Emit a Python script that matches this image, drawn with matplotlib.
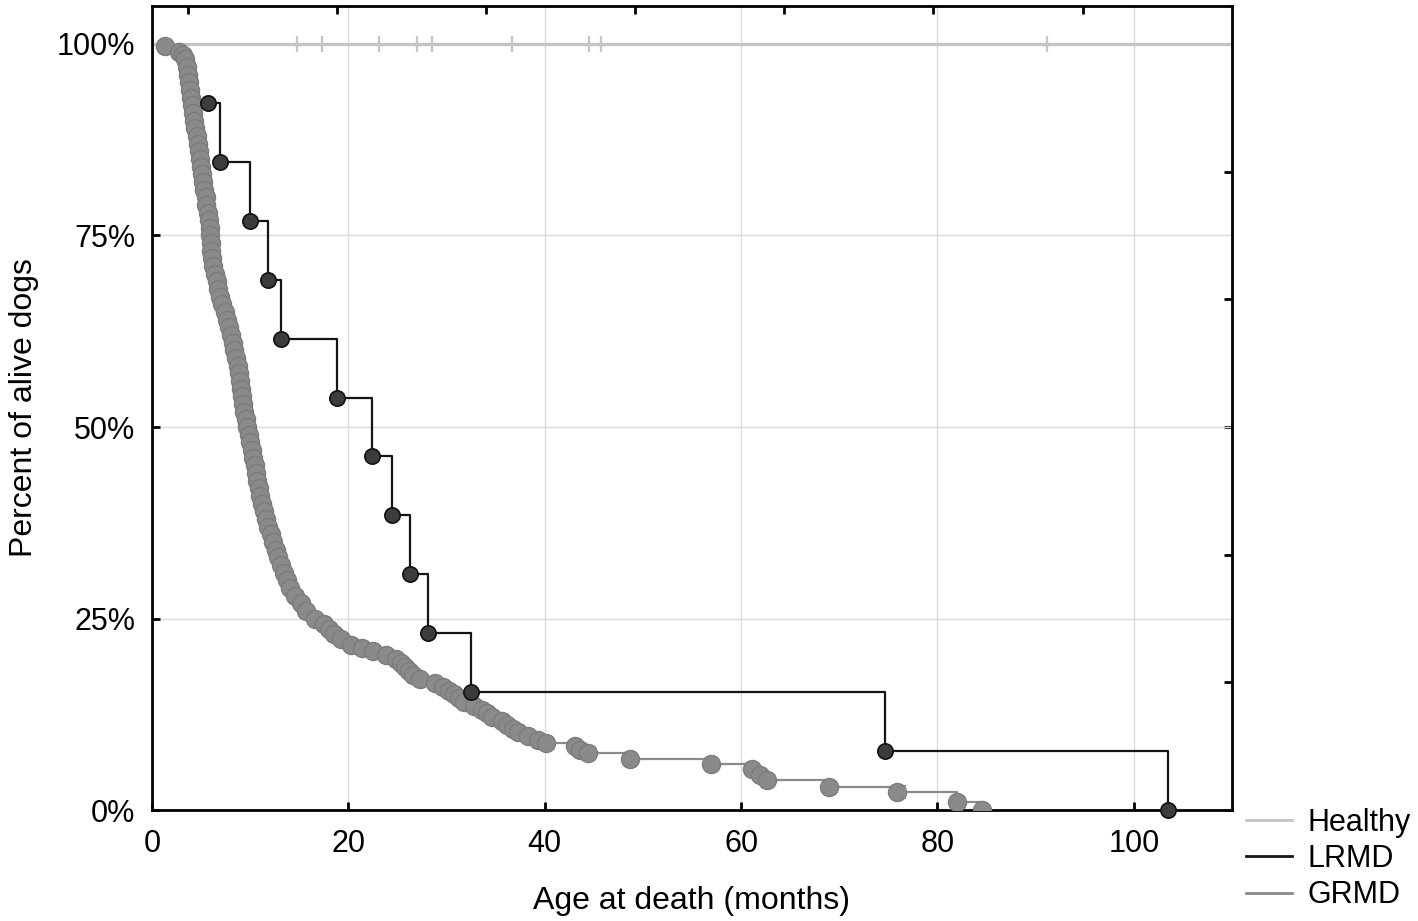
import numpy as np
import matplotlib
matplotlib.use("Agg")
import matplotlib.pyplot as plt
from matplotlib.lines import Line2D

plt.rcParams['font.family'] = ['Liberation Sans', 'DejaVu Sans']

# Healthy dogs: nobody died, only censored observations
healthy_censor = [14.8, 17.3, 23.1, 27.0, 28.5, 36.7, 44.5, 45.7, 91.2]

# LRMD: event times (months) and survival after each event
lrmd_time = [5.7, 6.9, 10.0, 11.8, 13.1, 18.8, 22.4, 24.4, 26.3, 28.1, 32.5, 74.7, 103.5]
lrmd_surv = [0.923, 0.846, 0.769, 0.692, 0.615, 0.538, 0.462, 0.385, 0.308, 0.231, 0.154, 0.077, 0.0]

# GRMD: event times (months) and survival (%)
grmd_time = [1.3, 2.8, 3.2, 3.4, 3.6, 3.7, 3.8, 3.9, 4.0, 4.1, 4.2, 4.3, 4.4, 4.55, 4.65,
             4.75, 4.85, 5.0, 5.1, 5.2, 5.3, 5.45, 5.55, 5.7, 5.8, 5.9, 5.95, 6.0, 6.05, 6.1,
             6.2, 6.4, 6.6, 6.75, 6.9, 7.15, 7.4, 7.6, 7.85, 8.0, 8.2, 8.4, 8.6, 8.75, 8.85,
             8.95, 9.05, 9.2, 9.3, 9.4, 9.55, 9.7, 9.85, 10.0, 10.15, 10.3, 10.45, 10.55, 10.7,
             10.85, 11.0, 11.2, 11.4, 11.65, 11.85, 12.1, 12.35, 12.6, 12.85, 13.1, 13.4, 13.7,
             14.1, 14.6, 15.2, 15.7, 16.6, 17.5, 18.0, 18.5, 19.3, 20.3, 21.4, 22.5, 23.8, 24.9,
             25.4, 25.8, 26.2, 26.6, 27.3, 28.8, 29.6, 30.3, 30.8, 31.3, 31.8, 32.8, 33.6, 34.1,
             34.6, 35.6, 36.2, 36.8, 37.3, 38.3, 39.3, 40.1, 43.1, 43.6, 44.4, 48.7, 56.9, 61.1,
             61.9, 62.6, 69.0, 75.9, 82.0, 84.5]
grmd_surv = [99.7, 99.0, 98.5, 98, 97, 96, 95, 94, 93, 92, 91, 90, 89, 88, 87,
             86, 85, 84, 83, 82, 81, 80, 79, 78, 77, 76, 75, 74, 73, 72,
             71, 70, 69, 68, 67, 66, 65, 64, 63, 62, 61, 60, 59, 58, 57,
             56, 55, 54, 53, 52, 51, 50, 49, 48, 47, 46, 45, 44, 43,
             42, 41, 40, 39, 38, 37, 36, 35, 34, 33, 32, 31, 30,
             29, 28, 27, 26, 25, 24.3, 23.6, 23.0, 22.3, 21.6, 21.2, 20.7, 20.2, 19.7,
             19.2, 18.7, 18.2, 17.6, 17.1, 16.6, 16.1, 15.6, 15.1, 14.6, 14.1, 13.6, 13.1, 12.6,
             12.1, 11.6, 11.1, 10.6, 10.2, 9.7, 9.2, 8.7, 8.3, 7.8, 7.4, 6.7, 6.0, 5.3,
             4.6, 3.9, 3.0, 2.3, 1.1, 0.0]
grmd_surv = [s / 100 for s in grmd_surv]
grmd_censor = [45.1, 76.7]

c_healthy = '#c4c4c4'
c_lrmd = '#151515'
c_grmd = '#8a8a8a'

fig = plt.figure(figsize=(14.18, 9.21), dpi=100)
ax = fig.add_axes([0.1072, 0.1205, 0.7616, 0.873])

# Healthy
ax.plot([0, 110], [1, 1], color=c_healthy, lw=2.4, zorder=2)
ax.plot(healthy_censor, [1] * len(healthy_censor), ls='none', marker='|',
        ms=12, mew=1.6, color=c_healthy, zorder=2)

# GRMD
ax.step(grmd_time, grmd_surv, where='post', color=c_grmd, lw=1.6, zorder=3)
ax.plot(grmd_time, grmd_surv, ls='none', marker='o', ms=13, mfc=c_grmd,
        mec='#7c7c7c', mew=1, zorder=3)
gc_y = [grmd_surv[np.searchsorted(grmd_time, t) - 1] for t in grmd_censor]
ax.plot(grmd_censor, gc_y, ls='none', marker='|', ms=10, mew=1.5, color=c_grmd, zorder=3)

# LRMD
ax.step(lrmd_time, lrmd_surv, where='post', color=c_lrmd, lw=1.6, zorder=4)
ax.plot(lrmd_time, lrmd_surv, ls='none', marker='o', ms=11, mfc='#3c3c3c',
        mec='#111111', mew=1.2, zorder=5, clip_on=False)

ax.set_xlim(0, 110)
ax.set_ylim(0, 1.0496)
ax.set_xticks([0, 20, 40, 60, 80, 100])
ax.set_yticks([0, 0.25, 0.5, 0.75, 1.0])
ax.set_yticklabels(['0%', '25%', '50%', '75%', '100%'])
ax.grid(True, color='#dcdcdc', lw=1)
ax.set_axisbelow(True)
ax.tick_params(direction='in', length=6, width=2, labelsize=22, color='black')
ax.tick_params(axis='x', pad=14)
ax.tick_params(axis='y', pad=12)
for s in ax.spines.values():
    s.set_linewidth(2)

# mirrored ticks on top and right (no labels)
top = ax.secondary_xaxis('top')
top.set_xticks([3.67, 18.84, 34.0, 49.2, 64.4, 79.6, 94.8])
top.tick_params(direction='in', length=6, width=2, labeltop=False)
right = ax.secondary_yaxis('right')
right.set_yticks([0, 1/6, 2/6, 3/6, 4/6, 5/6, 1.0])
right.tick_params(direction='in', length=6, width=2, labelright=False)

ax.set_xlabel('Age at death (months)', fontsize=23, labelpad=19)
ax.set_ylabel('Percent of alive dogs', fontsize=23, labelpad=13)

handles = [Line2D([], [], color=c_healthy, lw=2),
           Line2D([], [], color=c_lrmd, lw=2),
           Line2D([], [], color=c_grmd, lw=2)]
fig.legend(handles, ['Healthy', 'LRMD', 'GRMD'], loc='upper left',
           bbox_to_anchor=(1246 / 1418, 1 - 808 / 921), frameon=False, fontsize=22,
           handlelength=1.5, handletextpad=0.5, labelspacing=0.2,
           borderpad=0, borderaxespad=0)

fig.savefig('out.png', dpi=100)
